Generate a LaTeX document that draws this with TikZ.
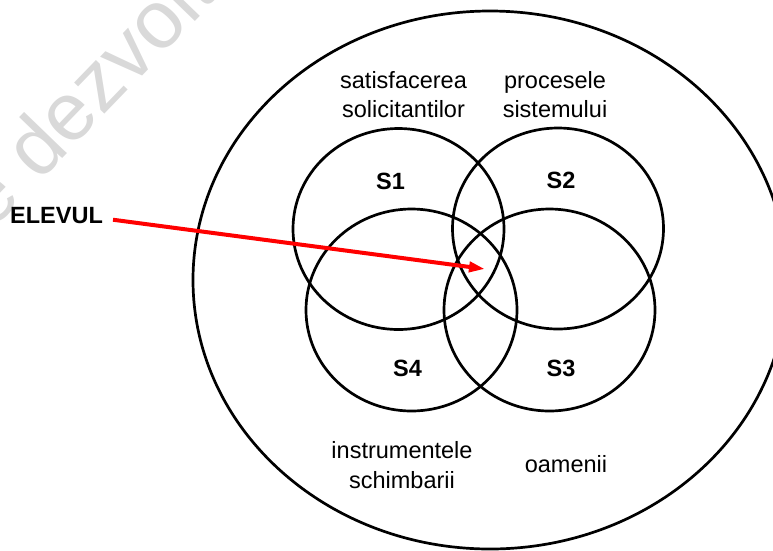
\documentclass[tikz,border=0pt]{standalone}
\usepackage{fontspec}
\setmainfont{Liberation Sans}
\usetikzlibrary{arrows.meta}
\begin{document}
\begin{tikzpicture}[x=1pt,y=-1pt,
  ring/.style={draw=black,line width=2.7pt},
  lbl/.style={font=\fontsize{23.5}{29.5}\selectfont,align=center,inner sep=0pt,anchor=base},
  slbl/.style={font=\fontsize{23.5}{28}\selectfont\bfseries,inner sep=0pt},
  pointer/.style={draw=red,line width=4pt,shorten <=10pt,-{Triangle[length=16pt,width=10pt]}},
  wm/.style={text=black!15,font=\fontsize{82}{82}\selectfont,rotate=46,inner sep=0pt,anchor=base west}]
\useasboundingbox (0,0) rectangle (773,550);
\clip (0,0) rectangle (773,550);
\node[wm] (wm) at (-40,264.5) {de dezvoltare};
\draw[ring] (490,280) ellipse [x radius=297,y radius=269];
\draw[ring] (398.5,229) ellipse [x radius=105.5,y radius=100.5];
\draw[ring] (558,228.5) ellipse [x radius=105.5,y radius=100.5];
\draw[ring] (411.5,310) ellipse [x radius=105.5,y radius=101];
\draw[ring] (549.5,310) ellipse [x radius=105.5,y radius=101];
\node[lbl] (t1) at (403.5,117.5) {satisfacerea\\solicitantilor};
\node[lbl] (t2) at (555,117.5) {procesele\\sistemului};
\node[lbl] (t4) at (402,488) {instrumentele\\schimbarii};
\node[lbl] (t3) at (566,472) {oamenii};
\node[slbl] (s1) at (390.5,181) {S1};
\node[slbl] (s2) at (561,180) {S2};
\node[slbl] (s4) at (407.5,368.5) {S4};
\node[slbl] (s3) at (561,368.5) {S3};
\node[font=\fontsize{23.5}{28}\selectfont\bfseries,inner sep=0pt,text depth=7pt,anchor=base west] (elevul) at (10,223) {ELEVUL};
\coordinate (tip) at (485,269);
\draw[pointer] (elevul.east) -- (tip);
\end{tikzpicture}
\end{document}
